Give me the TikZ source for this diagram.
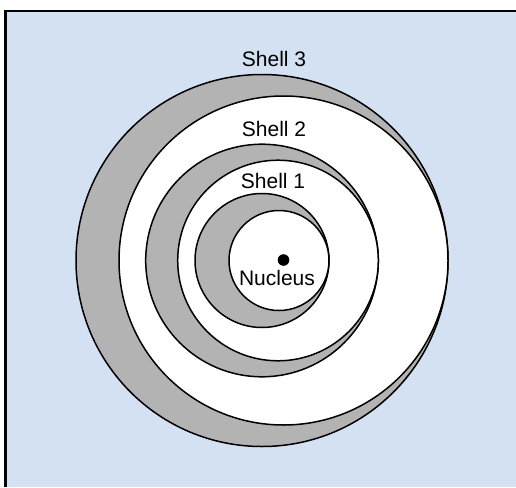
\documentclass[tikz,border=0pt]{standalone}
\usepackage{fontspec}
\setmainfont{Liberation Sans}
\definecolor{bgblue}{RGB}{212,225,242}
\definecolor{shellgray}{RGB}{179,179,179}
\begin{document}
\begin{tikzpicture}[x=1pt,y=-1pt,
  outer/.style={draw=black,line width=1.5pt,fill=shellgray},
  inner/.style={draw=black,line width=1.5pt,fill=white},
  lbl/.style={font=\fontsize{21}{25}\selectfont,inner sep=0pt}]
\useasboundingbox (0,0) rectangle (516,487);
\fill[white] (0,0) rectangle (516,487);
\fill[bgblue] (5.5,11) rectangle (516,487);
\draw[line width=2.5pt] (5.5,487) -- (5.5,11) -- (516,11);
% shell 3
\draw[outer] (262,260.5) circle (186);
\draw[inner] (283.5,260.5) circle (164.5);
% shell 2
\draw[outer] (262,260.5) circle (116.3);
\draw[inner] (278,260.5) circle (100.3);
% shell 1
\draw[outer] (262,260.5) circle (67);
\draw[inner] (279,260.5) circle (50);
% nucleus
\fill[black] (283.5,260) circle (5.8);
\node[lbl] (s3) at (274,59) {Shell 3};
\node[lbl] (s2) at (274,129) {Shell 2};
\node[lbl] (s1) at (273,181) {Shell 1};
\node[lbl] (nu) at (277,278) {Nucleus};
\end{tikzpicture}
\end{document}
